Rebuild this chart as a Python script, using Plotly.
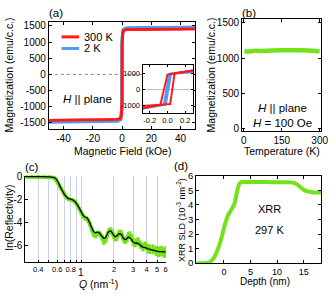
import plotly.graph_objects as go

W, H = 336, 296
FONT = "Liberation Sans"

# ---------------- data ----------------
# (a) M-H loops
H_red_up = [-50, -30, -10, -3, -1, -0.5, -0.28, -0.08, 0.03, 0.08, 0.27, 0.5, 1, 3, 10, 30, 50]
M_red_up = [-1420, -1415, -1405, -1390, -1360, -1290, -1190, -960, -920, 1020, 1190, 1290, 1355, 1385, 1395, 1400, 1405]
H_red_down = [50, 30, 10, 3, 1, 0.5, 0.27, 0.08, 0.0, -0.08, -0.28, -0.5, -1, -3, -10, -30, -50]
M_red_down = [1405, 1400, 1395, 1385, 1355, 1290, 1190, 1020, 945, -960, -1190, -1290, -1360, -1390, -1405, -1415, -1420]
H_blue_up = [-50, -30, -10, -3, -1, -0.5, -0.28, -0.06, -0.02, 0.04, 0.08, 0.27, 0.5, 1, 3, 10, 30, 50]
M_blue_up = [-1470, -1465, -1455, -1440, -1400, -1320, -1200, -980, -950, 1000, 1040, 1200, 1320, 1390, 1430, 1445, 1450, 1455]
H_blue_down = [50, 30, 10, 3, 1, 0.5, 0.27, 0.06, 0.02, -0.04, -0.08, -0.28, -0.5, -1, -3, -10, -30, -50]
M_blue_down = [1455, 1450, 1445, 1430, 1390, 1320, 1200, 1030, 990, -960, -990, -1200, -1320, -1400, -1440, -1455, -1465, -1470]
a_xticks = [-40, -20, 0, 20, 40]
a_yticks = [-1500, -1000, -500, 0, 500, 1000, 1500]
inset_xticks = [-0.2, 0.0, 0.2]
inset_yticks = [-1000, 0, 1000]

# (b) M-T
T_b = [2, 10, 20, 30, 40, 50, 60, 80, 100, 120, 150, 180, 200, 220, 250, 270, 290, 300]
M_b = [1100, 1095, 1092, 1096, 1102, 1105, 1100, 1102, 1105, 1108, 1110, 1112, 1112, 1110, 1108, 1104, 1098, 1092]
b_xticks = [0, 150, 300]
b_yticks = [0, 500, 1000, 1500]

# (c) XRR reflectivity
Q = [0.31, 0.35, 0.40, 0.45, 0.50, 0.53, 0.56, 0.58, 0.60, 0.62,
     0.65, 0.68, 0.70, 0.73, 0.76, 0.80, 0.84, 0.88, 0.92, 0.96,
     1.00, 1.04, 1.08, 1.12, 1.16, 1.20, 1.25, 1.30, 1.35, 1.40,
     1.45, 1.50, 1.56, 1.62, 1.68, 1.74, 1.80, 1.86, 1.92, 1.98,
     2.05, 2.12, 2.19, 2.26, 2.33, 2.40, 2.48, 2.56, 2.64, 2.72,
     2.80, 2.90, 3.00, 3.10, 3.20, 3.35, 3.50, 3.70, 3.90, 4.10,
     4.30, 4.60, 4.90, 5.20, 5.50, 5.80, 6.00]
ln_meas = [0, 0, 0, 0, -0.02, -0.05, -0.1, -0.25, -0.45, -0.7,
           -1.05, -1.4, -1.6, -1.8, -1.95, -2.0, -2.05, -2.2, -2.45, -2.8,
           -3.15, -3.45, -3.6, -3.65, -3.8, -4.1, -4.6, -5.0, -5.1, -4.95,
           -4.9, -5.0, -5.3, -5.65, -5.5, -5.0, -4.7, -4.65, -4.8, -5.1,
           -5.35, -5.3, -5.0, -4.85, -4.9, -5.2, -5.5, -5.55, -5.35, -5.1,
           -5.05, -5.3, -5.65, -5.8, -5.7, -5.6, -5.9, -6.1, -6.0, -6.25,
           -6.3, -6.3, -6.45, -6.5, -6.45, -6.6, -6.5]
ln_err = [0.05, 0.05, 0.05, 0.05, 0.05, 0.05, 0.05, 0.05, 0.05, 0.05,
          0.05, 0.05, 0.05, 0.05, 0.05, 0.05, 0.05, 0.05, 0.05, 0.05,
          0.08, 0.08, 0.08, 0.1, 0.1, 0.1, 0.12, 0.12, 0.12, 0.12,
          0.12, 0.14, 0.14, 0.14, 0.14, 0.14, 0.14, 0.15, 0.15, 0.15,
          0.16, 0.16, 0.16, 0.17, 0.17, 0.18, 0.18, 0.18, 0.2, 0.2,
          0.2, 0.22, 0.22, 0.22, 0.25, 0.25, 0.25, 0.28, 0.28, 0.3,
          0.3, 0.32, 0.32, 0.35, 0.35, 0.35, 0.35]
ln_fit = [0, 0, 0, 0, -0.01, -0.03, -0.08, -0.15, -0.35, -0.6,
          -1.0, -1.35, -1.55, -1.75, -1.9, -1.95, -2.05, -2.2, -2.45, -2.75,
          -3.05, -3.35, -3.5, -3.55, -3.75, -4.05, -4.45, -4.75, -4.85, -4.8,
          -4.85, -5.0, -5.2, -5.35, -5.25, -4.95, -4.75, -4.7, -4.85, -5.05,
          -5.2, -5.15, -5.0, -4.95, -5.0, -5.2, -5.4, -5.45, -5.35, -5.25,
          -5.3, -5.45, -5.65, -5.75, -5.75, -5.8, -5.95, -6.1, -6.15, -6.25,
          -6.3, -6.38, -6.45, -6.5, -6.5, -6.52, -6.52]
c_major = [0.4, 0.6, 0.8, 2, 3, 4, 5, 6]
c_major_labels = ["0.4", "0.6", "0.8", "2", "3", "4", "5", "6"]
c_minor = [0.5, 0.7, 0.9, 1]
c_yticks = [-6, -4, -2, 0]

# (d) SLD profile
depth = [-5.2, -4.0, -3.2, -2.8, -2.4, -2.0, -1.6, -1.2, -0.8, -0.4, 0.0, 0.4, 0.8, 1.2, 1.6,
         2.0, 2.3, 2.6, 2.9, 3.2, 3.6, 5, 8, 11, 12.5, 13.3, 13.8, 14.3, 14.8, 15.3, 15.8, 16.5, 17.5, 18.3]
sld = [0, 0, 0.01, 0.05, 0.15, 0.3, 0.55, 0.9, 1.3, 1.8, 2.4, 2.9, 3.3, 3.55, 3.8,
       4.1, 4.6, 5.1, 5.45, 5.56, 5.57, 5.57, 5.57, 5.56, 5.55, 5.5, 5.4, 5.25, 5.1, 4.98, 4.92, 4.88, 4.86, 4.86]
d_xticks = [0, 5, 10, 15]
d_yticks = [0, 1, 2, 3, 4, 5, 6]

assert len(Q) == len(ln_meas) == len(ln_err) == len(ln_fit)
assert len(depth) == len(sld)

RED = "#ff1a1a"
BLUE = "#4f9cf5"
GREEN = "#72e31a"
GRID = "#c9d0f2"


def px(x):
    return x / W


def py(y):
    return 1 - y / H


def lab(v):
    return f"{v:g}"


fig = go.Figure()

# (a) main
for hx, my, col, w in [(H_blue_up, M_blue_up, BLUE, 3.2), (H_blue_down, M_blue_down, BLUE, 3.2),
                       (H_red_up, M_red_up, RED, 2.6), (H_red_down, M_red_down, RED, 2.6)]:
    fig.add_trace(go.Scatter(x=hx, y=my, mode="lines", line=dict(color=col, width=w),
                             xaxis="x", yaxis="y", showlegend=False))
# (a) inset
for hx, my, col, w in [(H_blue_up, M_blue_up, BLUE, 2.2), (H_blue_down, M_blue_down, BLUE, 2.2),
                       (H_red_up, M_red_up, RED, 2.0), (H_red_down, M_red_down, RED, 2.0)]:
    fig.add_trace(go.Scatter(x=hx, y=my, mode="lines", line=dict(color=col, width=w),
                             xaxis="x2", yaxis="y2", showlegend=False))
# (b)
fig.add_trace(go.Scatter(x=T_b, y=M_b, mode="lines", line=dict(color=GREEN, width=4.5, shape="spline"),
                         xaxis="x3", yaxis="y3", showlegend=False))
# (c)
fig.add_trace(go.Scatter(x=Q, y=ln_meas, mode="lines+markers",
                         line=dict(color=GREEN, width=4),
                         marker=dict(color=GREEN, size=3),
                         error_y=dict(type="data", array=ln_err, color=GREEN, thickness=2.5, width=1.5),
                         xaxis="x4", yaxis="y4", showlegend=False))
fig.add_trace(go.Scatter(x=Q, y=ln_fit, mode="lines", line=dict(color="black", width=1.3, shape="spline"),
                         xaxis="x4", yaxis="y4", showlegend=False))
# (d)
fig.add_trace(go.Scatter(x=depth, y=sld, mode="lines", line=dict(color=GREEN, width=4, shape="spline"),
                         xaxis="x5", yaxis="y5", showlegend=False))

base = dict(showline=True, linecolor="black", linewidth=1, ticks="inside", ticklen=3,
            tickcolor="black", showgrid=False, zeroline=False,
            tickfont=dict(family=FONT, size=10, color="black"))

layout = dict(
    width=W, height=H, margin=dict(l=0, r=0, t=0, b=0),
    paper_bgcolor="white", plot_bgcolor="white", showlegend=False,
    font=dict(family=FONT, size=10, color="black"),
    xaxis=dict(base, domain=[px(49), px(199)], range=[-50, 50], anchor="y", mirror="ticks",
               tickvals=a_xticks, ticktext=[lab(v) for v in a_xticks]),
    yaxis=dict(base, domain=[py(128), py(18)], range=[-1680, 1610], anchor="x", mirror="ticks",
               tickvals=a_yticks, ticktext=[lab(v) for v in a_yticks]),
    xaxis2=dict(base, domain=[px(145), px(197)], range=[-0.28, 0.29], anchor="y2", mirror="ticks",
                ticklen=2, tickvals=inset_xticks, ticktext=[f"{v:.1f}" for v in inset_xticks],
                tickfont=dict(family=FONT, size=7.5, color="black")),
    yaxis2=dict(base, domain=[py(112), py(62)], range=[-1500, 1560], anchor="x2", mirror="ticks",
                ticklen=2, tickvals=inset_yticks, ticktext=[lab(v) for v in inset_yticks],
                tickfont=dict(family=FONT, size=7.5, color="black")),
    xaxis3=dict(base, domain=[px(247), px(328)], range=[-7, 306], anchor="y3", mirror="ticks",
                tickvals=b_xticks, ticktext=[lab(v) for v in b_xticks]),
    yaxis3=dict(base, domain=[py(130.5), py(15)], range=[-30, 1545], anchor="x3", mirror="ticks",
                tickvals=b_yticks, ticktext=[lab(v) for v in b_yticks]),
    xaxis4=dict(base, domain=[px(25), px(169)], type="log", range=[-0.516, 0.781], anchor="y4",
                tickvals=c_major, ticktext=c_major_labels, showgrid=True, gridcolor=GRID, gridwidth=0.8,
                tickfont=dict(family=FONT, size=7.5, color="black"), ticklen=2,
                minor=dict(tickvals=c_minor, showgrid=True, gridcolor=GRID, gridwidth=0.8,
                           ticks="inside", ticklen=2, tickcolor="black")),
    yaxis4=dict(base, domain=[py(266), py(176.5)], range=[-7.4, 0.1], anchor="x4",
                tickvals=c_yticks, ticktext=[lab(v) for v in c_yticks]),
    xaxis5=dict(base, domain=[px(200), px(328)], range=[-5.2, 18.3], anchor="y5", mirror="ticks",
                tickvals=d_xticks, ticktext=[lab(v) for v in d_xticks],
                tickfont=dict(family=FONT, size=9, color="black")),
    yaxis5=dict(base, domain=[py(267.5), py(176.5)], range=[-0.02, 6.02], anchor="x5", mirror="ticks",
                tickvals=d_yticks, ticktext=[lab(v) for v in d_yticks],
                tickfont=dict(family=FONT, size=9.5, color="black")),
)
fig.update_layout(**layout)

shapes = [
    dict(type="line", xref="x", yref="y", x0=-50, x1=14, y0=0, y1=0,
         line=dict(color="#888888", width=1, dash="dot"), layer="below"),
    dict(type="line", xref="x2", yref="y2", x0=-0.28, x1=0.29, y0=0, y1=0,
         line=dict(color="#aaaaaa", width=0.8), layer="below"),
    dict(type="line", xref="paper", yref="paper", x0=px(62), x1=px(80), y0=py(33), y1=py(33),
         line=dict(color=RED, width=3)),
    dict(type="line", xref="paper", yref="paper", x0=px(62), x1=px(80), y0=py(45), y1=py(45),
         line=dict(color=BLUE, width=3)),
]
fig.update_layout(shapes=shapes)


def ann(x, y, text, size=10, rot=0, xa="center", ya="middle", xref="paper", yref="paper"):
    return dict(x=x, y=y, xref=xref, yref=yref, text=text, showarrow=False, textangle=rot,
                xanchor=xa, yanchor=ya, font=dict(family=FONT, size=size, color="black"))


annotations = [
    ann(px(56), py(8), "(a)", 11.5),
    ann(px(254), py(8), "(b)", 11.5),
    ann(px(32), py(168), "(c)", 11.5),
    ann(px(184), py(167), "(d)", 11.5),
    ann(px(8), py(72), "Magnetization (emu/c.c.)", 10.5, -90),
    ann(px(124), py(151.5), "Magnetic Field (kOe)", 10.5),
    ann(px(83), py(33), "300 K", 11, xa="left"),
    ann(px(83), py(45), "2 K", 11, xa="left"),
    ann(px(89), py(97), "<i>H</i> || plane", 11.5),
    ann(px(215), py(72), "Magnetization (emu/c.c.)", 10.5, -90),
    ann(px(288), py(151.5), "Temperature (K)", 10.5),
    ann(px(288), py(107), "<i>H</i> || plane", 11.5),
    ann(px(288), py(122), "<i>H</i> = 100 Oe", 11.5),
    ann(px(8), py(220), "ln(Reflectivity)", 10.5, -90),
    ann(0, py(277), "1", 10, xref="x4"),
    ann(px(100), py(288), "<i>Q</i> (nm<sup>-1</sup>)", 10.5),
    ann(px(185), py(223), "XRR SLD (10<sup>-3</sup> nm<sup>-2</sup>)", 9, -90),
    ann(px(270), py(286.5), "Depth (nm)", 10),
    ann(px(275), py(211), "XRR", 11),
    ann(px(275), py(233), "297 K", 11),
]
fig.update_layout(annotations=annotations)

fig.write_html("out.html", config={"displayModeBar": False},
               post_script="document.body.style.margin='0';document.body.style.overflow='hidden';")
